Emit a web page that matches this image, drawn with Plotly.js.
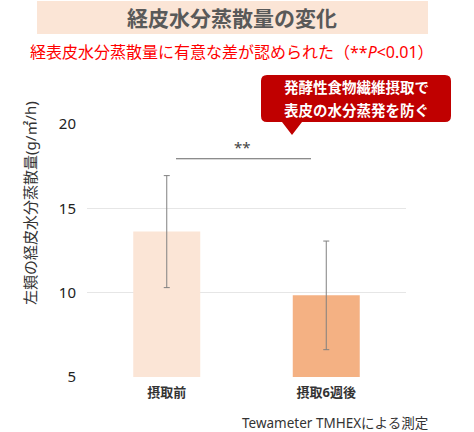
<!DOCTYPE html>
<html><head><meta charset="utf-8">
<script src="https://cdn.plot.ly/plotly-3.0.1.min.js"></script>
<style>html,body{margin:0;padding:0;background:#fff}#chart{width:474px;height:432px}</style>
</head><body><div id="chart"></div>
<script>
const categories = ['摂取前', '摂取6週後'];
const means = [13.62, 9.84];
const sds = [3.32, 3.22];
const barColors = ['#FBE5D6', '#F4B183'];
const yTicks = [5, 10, 15, 20];

const W = 474, H = 432;
const L = 87, R = 406, T = 124, B = 377;
const px = p => (p - L) / (R - L);
const py = p => (B - p) / (B - T);
const F = '"Noto Sans", "Noto Sans CJK JP", sans-serif';

const trace = {
  type: 'bar', x: categories, y: means, width: 0.42,
  marker: {color: barColors},
  error_y: {type: 'data', array: sds, visible: true, color: '#808080', thickness: 1, width: 3},
  hoverinfo: 'none'
};

const layout = {
  width: W, height: H,
  margin: {l: L, r: W - R, t: T, b: H - B, pad: 0},
  paper_bgcolor: '#fff', plot_bgcolor: '#fff',
  showlegend: false,
  font: {family: F, color: '#333'},
  xaxis: {
    range: [-0.5, 1.5], showgrid: false, zeroline: false, showline: false,
    tickfont: {family: F, size: 13, color: '#333', weight: 'bold'},
    ticks: '', ticklabelstandoff: 6
  },
  yaxis: {
    range: [5, 20], tickvals: yTicks, showgrid: true, gridcolor: '#e6e6e6', gridwidth: 1,
    zeroline: false, showline: false, ticks: '',
    tickfont: {family: F, size: 15, color: '#222'}, ticklabelstandoff: 10
  },
  shapes: [
    {type: 'rect', xref: 'paper', yref: 'paper', x0: px(37), x1: px(428), y0: py(34), y1: py(1),
     fillcolor: '#FBE5D6', line: {width: 0}, layer: 'below'},
    {type: 'path', xref: 'paper', yref: 'paper', fillcolor: '#C00000', line: {width: 0},
     path: (() => {
       const x0 = 261, x1 = 451, y0 = 75, y1 = 122, r = 6;
       const X = v => px(v), Y = v => py(v);
       return `M ${X(x0 + r)} ${Y(y0)} L ${X(x1 - r)} ${Y(y0)} Q ${X(x1)} ${Y(y0)} ${X(x1)} ${Y(y0 + r)} ` +
         `L ${X(x1)} ${Y(y1 - r)} Q ${X(x1)} ${Y(y1)} ${X(x1 - r)} ${Y(y1)} ` +
         `L ${X(302)} ${Y(y1)} L ${X(292)} ${Y(135)} L ${X(282)} ${Y(y1)} ` +
         `L ${X(x0 + r)} ${Y(y1)} Q ${X(x0)} ${Y(y1)} ${X(x0)} ${Y(y1 - r)} ` +
         `L ${X(x0)} ${Y(y0 + r)} Q ${X(x0)} ${Y(y0)} ${X(x0 + r)} ${Y(y0)} Z`;
     })()},
    {type: 'line', xref: 'paper', yref: 'y', x0: px(176), x1: px(311), y0: 17.94, y1: 17.94,
     line: {color: '#666', width: 1.2}}
  ],
  annotations: [
    {xref: 'paper', yref: 'paper', x: px(232), y: py(18), text: '経皮水分蒸散量の変化', showarrow: false,
     font: {family: F, size: 21, color: '#595959', weight: 'bold'}, xanchor: 'center', yanchor: 'middle'},
    {xref: 'paper', yref: 'paper', x: px(232), y: py(52), text: '経表皮水分蒸散量に有意な差が認められた（**<i>P</i><0.01）', showarrow: false,
     font: {family: F, size: 16, color: '#FF0000'}, xanchor: 'center', yanchor: 'middle'},
    {xref: 'paper', yref: 'paper', x: px(356), y: py(87), text: '発酵性食物繊維摂取で', showarrow: false,
     font: {family: F, size: 14.5, color: '#fff', weight: 'bold'}, xanchor: 'center', yanchor: 'middle'},
    {xref: 'paper', yref: 'paper', x: px(356), y: py(110), text: '表皮の水分蒸発を防ぐ', showarrow: false,
     font: {family: F, size: 14.5, color: '#fff', weight: 'bold'}, xanchor: 'center', yanchor: 'middle'},
    {xref: 'paper', yref: 'y', x: px(242), y: 18.65, text: '**', showarrow: false,
     font: {family: F, size: 15, color: '#444'}, xanchor: 'center', yanchor: 'middle'},
    {xref: 'paper', yref: 'paper', x: px(30), y: py(203), text: '左頬の経皮水分蒸散量(g/㎡/h)', showarrow: false,
     textangle: -90, font: {family: F, size: 15, color: '#333'}, xanchor: 'center', yanchor: 'middle'},
    {xref: 'paper', yref: 'paper', x: px(335), y: py(423), text: 'Tewameter TMHEXによる測定', showarrow: false,
     font: {family: F, size: 13.5, color: '#333'}, xanchor: 'center', yanchor: 'middle'}
  ]
};

Plotly.newPlot('chart', [trace], layout, {displayModeBar: false, staticPlot: true});
</script>
</body></html>
